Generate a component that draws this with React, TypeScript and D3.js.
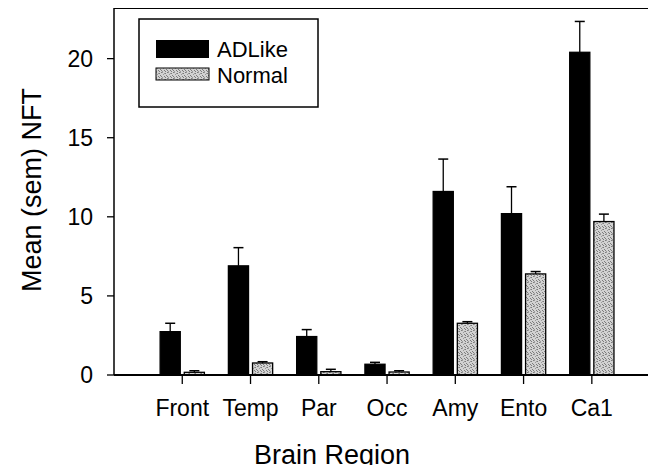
import React from "react";
import { scaleLinear } from "d3";

// brain regions along the x axis
const regions = ["Front", "Temp", "Par", "Occ", "Amy", "Ento", "Ca1"];
// mean NFT per region
const adlikeMean = [2.74, 6.9, 2.43, 0.68, 11.6, 10.2, 20.4];
const normalMean = [0.17, 0.76, 0.21, 0.19, 3.27, 6.39, 9.7];
// sem (upper error bar only)
const adlikeSem = [0.53, 1.15, 0.44, 0.12, 2.05, 1.7, 1.95];
const normalSem = [0.1, 0.08, 0.15, 0.08, 0.1, 0.15, 0.47];
const yTicks = [0, 5, 10, 15, 20];

// speckle dots for the Normal fill (6x6 tile)
const speckle = [
  [0, 0], [3, 1], [5, 0], [1, 2], [4, 3], [2, 4], [0, 5], [5, 4], [3, 5], [2, 1],
];

const W = 656;
const H = 473;
const left = 114;
const right = 656;
const top = 8;
const bottom = 375;
const font = "Arial, 'Liberation Sans', Helvetica, sans-serif";

export default function App() {
  const x = scaleLinear().domain([0, 7.94]).range([left, right]);
  const y = scaleLinear().domain([0, 23.2]).range([bottom, top]);
  const step = x(1) - x(0);
  const barW = step * 0.295;
  const gap = 2;
  const cap = 5;

  const series = [
    { key: "ADLike", mean: adlikeMean, sem: adlikeSem, fill: "#000", off: -gap - barW },
    { key: "Normal", mean: normalMean, sem: normalSem, fill: "url(#stipple)", off: gap },
  ];

  return (
    <svg width={W} height={H} style={{ display: "block", margin: -8 }}>
      <defs>
        <pattern id="stipple" width="6" height="6" patternUnits="userSpaceOnUse">
          <rect width="6" height="6" fill="#d2d2d2" />
          {speckle.map(([px, py], k) => (
            <rect key={k} x={px} y={py} width="1" height="1" fill={k % 3 === 0 ? "#9a9a9a" : "#7c7c7c"} />
          ))}
        </pattern>
      </defs>
      <rect width={W} height={H} fill="#fff" />

      {/* frame: top line, left axis */}
      <line x1={left} x2={right} y1={top} y2={top} stroke="#000" strokeWidth={2} />
      <line x1={left} x2={left} y1={top} y2={bottom} stroke="#000" strokeWidth={1.5} />

      {series.map((s) =>
        s.mean.map((m, i) => {
          const x0 = x(i + 1) + s.off;
          const cx = x0 + barW / 2;
          return (
            <g key={s.key + i}>
              <line x1={cx} x2={cx} y1={y(m)} y2={y(m + s.sem[i])} stroke="#000" strokeWidth={1.3} />
              <line x1={cx - cap} x2={cx + cap} y1={y(m + s.sem[i])} y2={y(m + s.sem[i])} stroke="#000" strokeWidth={1.5} />
              <rect x={x0} y={y(m)} width={barW} height={y(0) - y(m)} fill={s.fill} stroke="#000" strokeWidth={1.3} />
            </g>
          );
        })
      )}

      <line x1={left} x2={right} y1={bottom} y2={bottom} stroke="#000" strokeWidth={2} />

      {yTicks.map((t) => (
        <g key={t}>
          <line x1={left - 7} x2={left} y1={y(t)} y2={y(t)} stroke="#000" strokeWidth={1.3} />
          <text x={left - 21} y={y(t)} dy="0.36em" textAnchor="end" fontFamily={font} fontSize={23}>
            {t}
          </text>
        </g>
      ))}

      {regions.map((r, i) => (
        <g key={r}>
          <line x1={x(i + 1)} x2={x(i + 1)} y1={bottom} y2={bottom + 9} stroke="#000" strokeWidth={1.3} />
          <text x={x(i + 1)} y={416} textAnchor="middle" fontFamily={font} fontSize={23}>
            {r}
          </text>
        </g>
      ))}

      <text x={332} y={464} textAnchor="middle" fontFamily={font} fontSize={27}>
        Brain Region
      </text>
      <text transform="translate(41, 190) rotate(-90)" textAnchor="middle" fontFamily={font} fontSize={27}>
        Mean (sem) NFT
      </text>

      {/* legend */}
      <rect x={139} y={19} width={179} height={88} fill="#fff" stroke="#000" strokeWidth={1.5} />
      <rect x={156} y={40} width={53} height={18} fill="#000" />
      <rect x={156} y={68} width={53} height={12} fill="url(#stipple)" stroke="#000" strokeWidth={1} />
      <text x={217} y={57} fontFamily={font} fontSize={22}>ADLike</text>
      <text x={217} y={83} fontFamily={font} fontSize={22}>Normal</text>
    </svg>
  );
}
